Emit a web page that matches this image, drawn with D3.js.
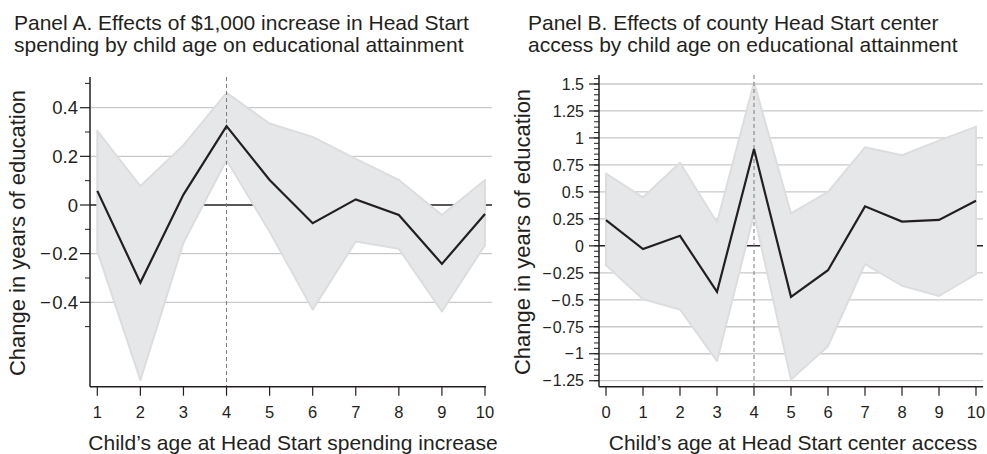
<!DOCTYPE html>
<html>
<head>
<meta charset="utf-8">
<script src="https://cdn.jsdelivr.net/npm/d3@7"></script>
<style>
  body { margin: 0; background: #fff; }
  text { font-family: "Liberation Sans", Arial, sans-serif; fill: #231f20; }
</style>
</head>
<body>
<div id="chart"></div>
<script>
// Panel A: $1,000 increase in Head Start spending
const agesA = [1, 2, 3, 4, 5, 6, 7, 8, 9, 10];
const estA = [0.058, -0.319, 0.043, 0.324, 0.103, -0.075, 0.023, -0.041, -0.242, -0.037];
const upperA = [0.305, 0.078, 0.246, 0.461, 0.335, 0.28, 0.19, 0.103, -0.041, 0.103];
const lowerA = [-0.19, -0.72, -0.155, 0.185, -0.11, -0.43, -0.15, -0.18, -0.438, -0.165];
const yTicksA = [-0.4, -0.2, 0, 0.2, 0.4];
const yMinorA = [-0.5, -0.3, -0.1, 0.1, 0.3, 0.5];

// Panel B: county Head Start center access
const agesB = [0, 1, 2, 3, 4, 5, 6, 7, 8, 9, 10];
const estB = [0.239, -0.03, 0.093, -0.427, 0.898, -0.473, -0.226, 0.366, 0.225, 0.24, 0.418];
const upperB = [0.67, 0.45, 0.77, 0.216, 1.515, 0.30, 0.50, 0.913, 0.84, 0.975, 1.105];
const lowerB = [-0.18, -0.495, -0.59, -1.068, 0.294, -1.24, -0.93, -0.17, -0.37, -0.465, -0.263];
const yTicksB = [-1.25, -1, -0.75, -0.5, -0.25, 0, 0.25, 0.5, 0.75, 1, 1.25, 1.5];
const yMinorB = d3.range(-25, 32).map(d => d * 0.05);

const titleA = ["Panel A. Effects of $1,000 increase in Head Start",
                "spending by child age on educational attainment"];
const titleB = ["Panel B. Effects of county Head Start center",
                "access by child age on educational attainment"];
const xLabelA = "Child\u2019s age at Head Start spending increase";
const xLabelB = "Child\u2019s age at Head Start center access";
const yLabel = "Change in years of education";

const svg = d3.select("#chart").append("svg")
    .attr("width", 987)
    .attr("height", 454);

// minus sign with a little room after it, like the original
const fmt = d => (d < 0 ? "\u2212\u200a" : "") + d3.format("")(Math.abs(d));

function drawPanel(cfg) {
    const g = svg.append("g");
    const x = d3.scaleLinear().domain(cfg.xDomain).range(cfg.xRange);
    const y = d3.scaleLinear().domain(cfg.yDomain).range(cfg.yRange);

    // title
    g.append("text")
        .attr("x", cfg.titleX)
        .attr("y", 29.5)
        .style("font-size", "21px")
        .selectAll("tspan")
        .data(cfg.title)
        .enter().append("tspan")
        .attr("x", cfg.titleX)
        .attr("dy", (d, i) => i === 0 ? 0 : 22)
        .text(d => d);

    // gridlines
    g.selectAll(".grid")
        .data(cfg.yTicks.filter(d => d !== 0))
        .enter().append("line")
        .attr("x1", cfg.left)
        .attr("x2", cfg.gridRight)
        .attr("y1", d => y(d))
        .attr("y2", d => y(d))
        .attr("stroke", "#c9c9c9")
        .attr("stroke-width", 1.3);

    // zero line
    g.append("line")
        .attr("x1", cfg.left)
        .attr("x2", cfg.gridRight)
        .attr("y1", y(0))
        .attr("y2", y(0))
        .attr("stroke", "#231f20")
        .attr("stroke-width", 1.5);

    // confidence band
    g.append("path")
        .datum(cfg.ages)
        .attr("fill", "#e6e7e8")
        .attr("stroke", "#dcdddf")
        .attr("stroke-width", 2)
        .attr("stroke-linejoin", "round")
        .attr("d", d3.area()
            .x(d => x(d))
            .y0((d, i) => y(cfg.lower[i]))
            .y1((d, i) => y(cfg.upper[i])));

    // dashed reference at age 4
    g.append("line")
        .attr("x1", x(4))
        .attr("x2", x(4))
        .attr("y1", cfg.top)
        .attr("y2", cfg.bottom)
        .attr("stroke", "#7a7a7a")
        .attr("stroke-width", 1)
        .attr("stroke-dasharray", "4,3");

    // estimate line
    g.append("path")
        .datum(cfg.ages)
        .attr("fill", "none")
        .attr("stroke", "#231f20")
        .attr("stroke-width", 2.2)
        .attr("d", d3.line()
            .x(d => x(d))
            .y((d, i) => y(cfg.est[i])));

    // y axis
    const yAxis = g.append("g")
        .attr("transform", `translate(${cfg.left},0)`);
    yAxis.append("line")
        .attr("y1", cfg.top).attr("y2", cfg.bottom)
        .attr("stroke", "#231f20").attr("stroke-width", 1.5);
    yAxis.selectAll(".minor")
        .data(cfg.yMinor)
        .enter().append("line")
        .attr("x1", -5).attr("x2", 0)
        .attr("y1", d => y(d)).attr("y2", d => y(d))
        .attr("stroke", "#231f20").attr("stroke-width", 1);
    yAxis.selectAll(".major")
        .data(cfg.yTicks)
        .enter().append("line")
        .attr("x1", -10).attr("x2", 0)
        .attr("y1", d => y(d)).attr("y2", d => y(d))
        .attr("stroke", "#231f20").attr("stroke-width", 1.2);
    yAxis.selectAll(".ylab")
        .data(cfg.yTicks)
        .enter().append("text")
        .attr("x", cfg.labelGap)
        .attr("y", d => y(d))
        .attr("dy", "0.36em")
        .attr("text-anchor", "end")
        .style("font-size", cfg.tickSize)
        .text(fmt);

    // x axis
    const xAxis = g.append("g")
        .attr("transform", `translate(0,${cfg.bottom})`);
    xAxis.append("line")
        .attr("x1", cfg.left).attr("x2", cfg.axisRight)
        .attr("stroke", "#231f20").attr("stroke-width", 1.5);
    xAxis.selectAll(".xt")
        .data(cfg.ages)
        .enter().append("line")
        .attr("x1", d => x(d)).attr("x2", d => x(d))
        .attr("y1", 0).attr("y2", 9)
        .attr("stroke", "#231f20").attr("stroke-width", 1.2);
    xAxis.selectAll(".xlab")
        .data(cfg.ages)
        .enter().append("text")
        .attr("x", d => x(d))
        .attr("y", 31.5)
        .attr("text-anchor", "middle")
        .style("font-size", "16.5px")
        .text(d => d);

    // axis titles
    g.append("text")
        .attr("x", cfg.xLabelX)
        .attr("y", 450)
        .attr("text-anchor", "middle")
        .style("font-size", "21px")
        .text(cfg.xLabel);
    g.append("text")
        .attr("transform", `translate(${cfg.yLabelX},${cfg.yLabelY}) rotate(-90)`)
        .attr("text-anchor", "middle")
        .style("font-size", "22px")
        .text(yLabel);
}

drawPanel({
    ages: agesA, est: estA, upper: upperA, lower: lowerA,
    yTicks: yTicksA, yMinor: yMinorA,
    xDomain: [1, 10], xRange: [97.3, 485],
    yDomain: [-0.4, 0.4], yRange: [302.3, 107.7],
    left: 90, top: 77, bottom: 386.7, gridRight: 492, axisRight: 486,
    labelGap: -12, tickSize: "18.5px", title: titleA, titleX: 14,
    xLabel: xLabelA, xLabelX: 293, yLabelX: 25, yLabelY: 233
});

drawPanel({
    ages: agesB, est: estB, upper: upperB, lower: lowerB,
    yTicks: yTicksB, yMinor: yMinorB,
    xDomain: [0, 10], xRange: [606, 976],
    yDomain: [-1.25, 1.5], yRange: [380.7, 84],
    left: 599, top: 75, bottom: 386.7, gridRight: 983, axisRight: 983,
    labelGap: -15, tickSize: "16px", title: titleB, titleX: 528,
    xLabel: xLabelB, xLabelX: 793, yLabelX: 530, yLabelY: 232
});
</script>
</body>
</html>
